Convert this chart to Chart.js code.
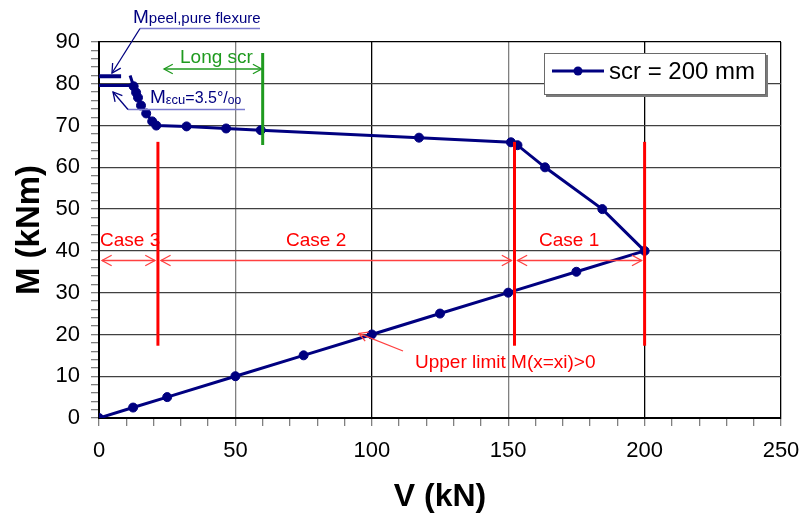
<!DOCTYPE html>
<html lang="en">
<head>
<meta charset="UTF-8">
<title>M-V interaction</title>
<script src="https://cdn.jsdelivr.net/npm/chart.js"></script>
<style>
  html, body { margin: 0; padding: 0; background: #fff; }
  #wrap { width: 803px; height: 517px; }
</style>
</head>
<body>
<div id="wrap"><canvas id="mvChart"></canvas></div>
<script>
// curve for scr = 200 mm (V in kN, M in kNm)
const vValues = [0, 12.5, 25, 50, 75, 100, 125, 150, 175, 200, 184.5, 163.5, 153.4, 151, 117.3, 59.3, 46.6, 32.1, 21, 19.5, 17.3, 15.4, 14.3, 13.6, 12.7, 11.4];
const mValues = [0, 2.5, 5, 10, 15, 20, 25, 30, 35, 40, 50, 60, 65.3, 66, 67.1, 68.9, 69.3, 69.8, 70.0, 71.0, 72.9, 74.8, 76.7, 77.9, 79.4, 82];
const seriesLabel = 'scr = 200 mm';

// the two short moment levels at the left
const mPeel = 81.8;
const mPeelEnd = 8.1;
const mEcu = 79.6;
const mEcuEnd = 12.7;

// case limits (kN) and the marks around them
const caseLimits = [21.6, 152.3, 200];
const caseLineTop = 66.1;
const caseLineBottom = 17.3;
const caseArrowM = 37.7;
const caseNames = ['Case 3', 'Case 2', 'Case 1'];
const longScrV = 60;

const xTicks = [0, 50, 100, 150, 200, 250];
const yTicks = [0, 10, 20, 30, 40, 50, 60, 70, 80, 90];

const NAVY = '#000080';
const RED = '#ff0000';
const GREEN = '#1f9a1f';
const LILAC = '#7b7bcf';
const FONT = '"Liberation Sans", Arial, sans-serif';

const points = vValues.map((v, i) => ({ x: v, y: mValues[i] }));

function arrowHead(ctx, x1, y1, x2, y2, size) {
  // open chevron at (x2, y2)
  const a = Math.atan2(y2 - y1, x2 - x1);
  ctx.beginPath();
  ctx.moveTo(x2 - size * Math.cos(a - 0.5), y2 - size * Math.sin(a - 0.5));
  ctx.lineTo(x2, y2);
  ctx.lineTo(x2 - size * Math.cos(a + 0.5), y2 - size * Math.sin(a + 0.5));
  ctx.stroke();
}

function arrow(ctx, x1, y1, x2, y2, size, both) {
  ctx.beginPath();
  ctx.moveTo(x1, y1);
  ctx.lineTo(x2, y2);
  ctx.stroke();
  arrowHead(ctx, x1, y1, x2, y2, size);
  if (both) arrowHead(ctx, x2, y2, x1, y1, size);
}

function textRun(ctx, x, y, parts) {
  // parts: [text, size, dy]
  parts.forEach(p => {
    ctx.font = p[1] + 'px ' + FONT;
    ctx.fillText(p[0], x, y + (p[2] || 0));
    x += ctx.measureText(p[0]).width;
  });
}

const notes = {
  id: 'notes',
  afterDatasetsDraw(chart) {
    const ctx = chart.ctx;
    const xs = chart.scales.x, ys = chart.scales.y;
    const px = v => xs.getPixelForValue(v);
    const py = m => ys.getPixelForValue(m);
    ctx.save();
    ctx.textBaseline = 'alphabetic';
    ctx.textAlign = 'left';

    // red case limits
    ctx.strokeStyle = RED;
    ctx.lineWidth = 3;
    caseLimits.forEach(v => {
      ctx.beginPath();
      ctx.moveTo(px(v), py(caseLineTop));
      ctx.lineTo(px(v), py(caseLineBottom));
      ctx.stroke();
    });
    ctx.strokeStyle = '#ff4040';
    ctx.lineWidth = 1.3;
    const bounds = [0].concat(caseLimits);
    const ya = py(caseArrowM);
    for (let i = 0; i < 3; i++) {
      arrow(ctx, px(bounds[i]) + 3, ya, px(bounds[i + 1]) - 3, ya, 11, true);
    }
    ctx.fillStyle = RED;
    ctx.font = '19px ' + FONT;
    ctx.fillText(caseNames[0], 100, 246);
    ctx.fillText(caseNames[1], 286, 246);
    ctx.fillText(caseNames[2], 539, 246);

    // upper limit note
    ctx.fillText('Upper limit M(x=xi)>0', 415, 368);
    ctx.strokeStyle = '#ff4040';
    arrow(ctx, 403, 351, px(vValues[5]) - 13, py(mValues[5]) - 1, 10, false);

    // long scr
    ctx.strokeStyle = GREEN;
    ctx.lineWidth = 3;
    ctx.beginPath();
    ctx.moveTo(px(longScrV), 53);
    ctx.lineTo(px(longScrV), 145);
    ctx.stroke();
    ctx.lineWidth = 1.3;
    arrow(ctx, 164, 69, px(longScrV) - 1, 69, 10, true);
    ctx.fillStyle = GREEN;
    ctx.fillText('Long scr', 180, 63);

    // M peel note
    ctx.fillStyle = NAVY;
    textRun(ctx, 133, 23, [['M', 19], ['peel,pure flexure', 15]]);
    ctx.strokeStyle = LILAC;
    ctx.lineWidth = 1.3;
    ctx.beginPath();
    ctx.moveTo(140, 28.5);
    ctx.lineTo(260, 28.5);
    ctx.stroke();
    ctx.strokeStyle = NAVY;
    arrow(ctx, 140, 28.5, 112, 73, 10, false);

    // M ecu note
    textRun(ctx, 150, 103, [['M', 19], ['\u03b5cu', 13, 1], ['=3.5\u00b0/', 16], ['oo', 12, 1]]);
    ctx.strokeStyle = LILAC;
    ctx.beginPath();
    ctx.moveTo(128, 109.5);
    ctx.lineTo(245, 109.5);
    ctx.stroke();
    ctx.strokeStyle = NAVY;
    arrow(ctx, 128, 109.5, 113, 92, 10, false);

    // legend box
    const bx = 544, by = 53, bw = 222, bh = 42;
    ctx.fillStyle = '#7a7a7a';
    ctx.fillRect(bx + 2, by + 2, bw, bh);
    ctx.fillStyle = '#fff';
    ctx.fillRect(bx, by, bw, bh);
    ctx.strokeStyle = '#6a6a6a';
    ctx.lineWidth = 1;
    ctx.strokeRect(bx + 0.5, by + 0.5, bw - 1, bh - 1);
    ctx.strokeStyle = NAVY;
    ctx.lineWidth = 3;
    ctx.beginPath();
    ctx.moveTo(552, 71);
    ctx.lineTo(604, 71);
    ctx.stroke();
    ctx.fillStyle = NAVY;
    ctx.beginPath();
    ctx.arc(578, 71, 4.5, 0, Math.PI * 2);
    ctx.fill();
    ctx.fillStyle = '#000';
    ctx.font = '24px ' + FONT;
    ctx.fillText(seriesLabel, 609, 79);

    ctx.restore();
  }
};

new Chart(document.getElementById('mvChart'), {
  type: 'scatter',
  data: {
    datasets: [
      {
        label: seriesLabel,
        data: points,
        showLine: true,
        borderColor: NAVY,
        backgroundColor: NAVY,
        borderWidth: 3,
        pointRadius: ctx => ctx.dataIndex === points.length - 1 ? 0 : 4.5,
        pointBackgroundColor: NAVY,
        pointBorderColor: NAVY,
        pointBorderWidth: 1,
        tension: 0
      },
      {
        label: 'Mpeel',
        data: [{ x: 0, y: mPeel }, { x: mPeelEnd, y: mPeel }],
        showLine: true,
        borderColor: NAVY,
        borderWidth: 4,
        pointRadius: 0
      },
      {
        label: 'Mecu',
        data: [{ x: 0, y: mEcu }, { x: mEcuEnd, y: mEcu }],
        showLine: true,
        borderColor: NAVY,
        borderWidth: 3,
        pointRadius: 0
      }
    ]
  },
  options: {
    responsive: true,
    maintainAspectRatio: false,
    animation: false,
    layout: { padding: { top: 42, right: 22, left: 0, bottom: 0 } },
    plugins: {
      legend: { display: false },
      tooltip: { enabled: false }
    },
    scales: {
      x: {
        type: 'linear',
        min: 0,
        max: 250,
        afterFit: s => { s.height = 99; s.paddingLeft = 0; s.paddingRight = 0; },
        border: { color: '#000', width: 2 },
        grid: {
          color: c => {
            const v = c.tick.value;
            if (v === 100 || v === 200 || v === 250) return '#000';
            if (v === 50 || v === 150) return '#808080';
            return 'rgba(0,0,0,0)';
          },
          tickColor: '#808080',
          tickLength: 8,
          lineWidth: 1.3
        },
        ticks: {
          stepSize: 10,
          autoSkip: false,
          maxRotation: 0,
          padding: 12,
          color: '#000',
          font: { family: FONT, size: 22 },
          callback: v => xTicks.includes(v) ? v : ''
        },
        title: {
          display: true,
          text: 'V (kN)',
          color: '#000',
          font: { family: FONT, size: 32, weight: 'bold' },
          padding: { top: 0, bottom: 1 }
        }
      },
      y: {
        type: 'linear',
        min: 0,
        max: 90,
        afterFit: s => { s.width = 99; s.paddingTop = 0; s.paddingBottom = 0; },
        border: { color: '#000', width: 2 },
        grid: {
          color: c => {
            const v = c.tick.value;
            if (v === 90) return '#000';
            if (yTicks.includes(v) && v !== 0) return '#404040';
            return 'rgba(0,0,0,0)';
          },
          tickColor: '#808080',
          tickLength: 8,
          lineWidth: 1.3
        },
        ticks: {
          stepSize: 2,
          autoSkip: false,
          padding: 11,
          color: '#000',
          font: { family: FONT, size: 22 },
          callback: v => yTicks.includes(v) ? v : ''
        },
        title: {
          display: true,
          text: 'M (kNm)',
          color: '#000',
          font: { family: FONT, size: 33, weight: 'bold' },
          padding: { top: 10, bottom: 0 }
        }
      }
    }
  },
  plugins: [notes]
});
</script>
</body>
</html>
